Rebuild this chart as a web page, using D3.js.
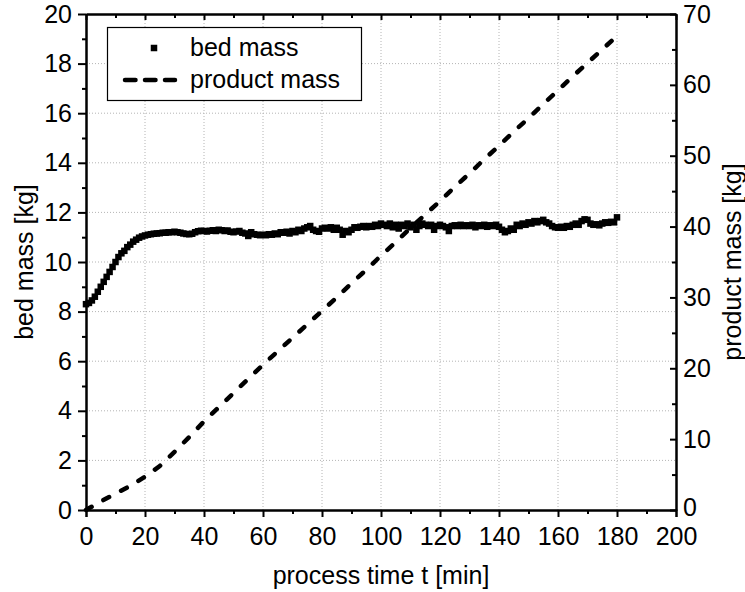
<!DOCTYPE html>
<html>
<head>
<meta charset="utf-8">
<script src="https://cdn.jsdelivr.net/npm/d3@7/dist/d3.min.js"></script>
<style>
    body { margin: 0; background: #fff; }
    text { font-family: "Liberation Sans", Arial, sans-serif; fill: #000; }
</style>
</head>
<body>
<svg id="chart"></svg>
<script>
// bed mass [kg], one reading per minute starting at t = 0 min
const bedMass = [
    8.30, 8.35, 8.45, 8.60, 8.80, 9.00, 9.20, 9.40, 9.60, 9.80,
    10.00, 10.20, 10.35, 10.45, 10.60, 10.70, 10.82, 10.90, 10.98, 11.03,
    11.07, 11.10, 11.12, 11.14, 11.15, 11.16, 11.18, 11.18, 11.20, 11.20,
    11.22, 11.20, 11.18, 11.15, 11.13, 11.12, 11.14, 11.20, 11.24, 11.26,
    11.25, 11.23, 11.26, 11.28, 11.25, 11.30, 11.28, 11.25, 11.27, 11.22,
    11.20, 11.23, 11.25, 11.18, 11.15, 11.05, 11.20, 11.12, 11.10, 11.08,
    11.10, 11.08, 11.12, 11.10, 11.15, 11.12, 11.20, 11.18, 11.22, 11.15,
    11.25, 11.20, 11.30, 11.25, 11.35, 11.40, 11.45, 11.30, 11.25, 11.22,
    11.35, 11.38, 11.35, 11.40, 11.30, 11.38, 11.30, 11.10, 11.25, 11.20,
    11.30, 11.40, 11.38, 11.42, 11.45, 11.40, 11.45, 11.42, 11.50, 11.45,
    11.55, 11.50, 11.45, 11.55, 11.40, 11.50, 11.35, 11.50, 11.45, 11.55,
    11.40, 11.50, 11.30, 11.45, 11.55, 11.50, 11.45, 11.50, 11.30, 11.45,
    11.50, 11.45, 11.40, 11.25, 11.45, 11.48, 11.45, 11.50, 11.45, 11.48,
    11.45, 11.50, 11.40, 11.48, 11.45, 11.50, 11.42, 11.48, 11.45, 11.50,
    11.42, 11.30, 11.20, 11.25, 11.35, 11.30, 11.50, 11.45, 11.55, 11.50,
    11.60, 11.55, 11.65, 11.60, 11.65, 11.70, 11.60, 11.55, 11.45, 11.40,
    11.38, 11.42, 11.38, 11.45, 11.42, 11.50, 11.55, 11.50, 11.65, 11.72,
    11.70, 11.55, 11.50, 11.52, 11.48, 11.55, 11.60, 11.58, 11.62, 11.60,
    11.80
];

// product mass [kg]
const productTime = [0, 5, 10, 15, 20, 25, 30, 35, 40, 45, 50, 55, 60, 65, 70, 75, 80, 85, 90,
    95, 100, 105, 110, 115, 120, 125, 130, 135, 140, 145, 150, 155, 160, 165, 170, 175, 180];
const productMass = [0, 1.2, 2.3, 3.4, 4.7, 6.2, 8.2, 10.3, 12.5, 14.5, 16.5, 18.5, 20.5, 22.4,
    24.3, 26.2, 28.1, 30.0, 32.0, 33.9, 35.9, 37.8, 39.8, 41.7, 43.6, 45.6, 47.5, 49.5, 51.4,
    53.4, 55.3, 57.3, 59.2, 61.2, 63.1, 65.0, 66.9];

const xTicks = [0, 20, 40, 60, 80, 100, 120, 140, 160, 180, 200];
const xMinorTicks = [10, 30, 50, 70, 90, 110, 130, 150, 170, 190];
const leftTicks = [0, 2, 4, 6, 8, 10, 12, 14, 16, 18, 20];
const leftMinorTicks = [1, 3, 5, 7, 9, 11, 13, 15, 17, 19];
const rightTicks = [0, 10, 20, 30, 40, 50, 60, 70];
const rightMinorTicks = [5, 15, 25, 35, 45, 55, 65];

const svgWidth = 745;
const svgHeight = 592;
const margin = { top: 14, right: 70, bottom: 82, left: 86 };

const xScale = d3.scaleLinear()
    .domain([0, 200])
    .range([margin.left, svgWidth - margin.right + 1]);

const yLeft = d3.scaleLinear()
    .domain([0, 20])
    .range([svgHeight - margin.bottom, margin.top]);

const yRight = d3.scaleLinear()
    .domain([0, 70])
    .range([svgHeight - margin.bottom, margin.top]);

function drawChart() {
    const svg = d3.select("#chart")
        .attr("width", svgWidth)
        .attr("height", svgHeight);

    const x0 = xScale.range()[0], x1 = xScale.range()[1];
    const y0 = yLeft.range()[0], y1 = yLeft.range()[1];

    // dotted grid
    const grid = svg.append("g")
        .attr("stroke", "#b4b4b4")
        .attr("stroke-width", 1)
        .attr("stroke-dasharray", "1,2");
    grid.selectAll(".vgrid")
        .data(xTicks.slice(1, -1))
        .join("line")
        .attr("x1", d => xScale(d)).attr("x2", d => xScale(d))
        .attr("y1", y0).attr("y2", y1);
    grid.selectAll(".hgrid")
        .data(leftTicks.slice(1, -1))
        .join("line")
        .attr("x1", x0).attr("x2", x1)
        .attr("y1", d => yLeft(d)).attr("y2", d => yLeft(d));

    // product mass, dashed line on right axis
    const line = d3.line()
        .x((d, i) => xScale(productTime[i]))
        .y(d => yRight(d));
    svg.append("path")
        .datum(productMass)
        .attr("fill", "none")
        .attr("stroke", "#000")
        .attr("stroke-width", 4.5)
        .attr("stroke-linecap", "round")
        .attr("stroke-dasharray", "6.5,13.5")
        .attr("d", line);

    // bed mass, square markers on left axis
    const s = 6.5;
    svg.append("g")
        .selectAll("rect")
        .data(bedMass)
        .join("rect")
        .attr("x", (d, i) => xScale(i) - s / 2)
        .attr("y", d => yLeft(d) - s / 2)
        .attr("width", s)
        .attr("height", s)
        .attr("fill", "#000");

    // axes
    const fontSize = 25;
    const styleAxis = g => {
        g.selectAll("path, line").attr("stroke", "#000").attr("stroke-width", 2);
        g.selectAll("text").attr("font-size", fontSize)
            .attr("font-family", '"Liberation Sans", Arial, sans-serif').attr("fill", "#000");
    };

    svg.append("g")
        .attr("transform", `translate(0,${y0})`)
        .call(d3.axisBottom(xScale).tickValues(xTicks).tickSize(7).tickPadding(10))
        .call(styleAxis);
    svg.append("g")
        .attr("transform", `translate(0,${y0})`)
        .call(d3.axisBottom(xScale).tickValues(xMinorTicks).tickSize(4).tickFormat("").tickSizeOuter(0))
        .call(styleAxis);

    svg.append("g")
        .attr("transform", `translate(0,${y1})`)
        .call(d3.axisTop(xScale).tickValues(xTicks).tickSize(-6).tickFormat("").tickSizeOuter(0))
        .call(styleAxis);
    svg.append("g")
        .attr("transform", `translate(0,${y1})`)
        .call(d3.axisTop(xScale).tickValues(xMinorTicks).tickSize(-4).tickFormat("").tickSizeOuter(0))
        .call(styleAxis);

    svg.append("g")
        .attr("transform", `translate(${x0},0)`)
        .call(d3.axisLeft(yLeft).tickValues(leftTicks).tickSize(8).tickPadding(6).tickSizeOuter(0))
        .call(styleAxis);
    svg.append("g")
        .attr("transform", `translate(${x0},0)`)
        .call(d3.axisLeft(yLeft).tickValues(leftMinorTicks).tickSize(4).tickFormat("").tickSizeOuter(0))
        .call(styleAxis);

    const rightAxis = svg.append("g")
        .attr("transform", `translate(${x1},0)`)
        .call(d3.axisRight(yRight).tickValues(rightTicks).tickSize(-6).tickPadding(7).tickSizeOuter(0))
        .call(styleAxis);
    // keep the right "0" clear of the bottom "200"
    rightAxis.selectAll(".tick text").filter(d => d === 0).attr("y", -3);
    svg.append("g")
        .attr("transform", `translate(${x1},0)`)
        .call(d3.axisRight(yRight).tickValues(rightMinorTicks).tickSize(-4).tickFormat("").tickSizeOuter(0))
        .call(styleAxis);

    // axis titles
    const midY = (y0 + y1) / 2;
    svg.append("text")
        .attr("transform", `translate(33,${midY}) rotate(-90)`)
        .attr("text-anchor", "middle")
        .attr("font-size", fontSize)
        .text("bed mass [kg]");
    svg.append("text")
        .attr("transform", `translate(741,${midY}) rotate(-90)`)
        .attr("text-anchor", "middle")
        .attr("font-size", fontSize)
        .text("product mass [kg]");
    svg.append("text")
        .attr("x", (x0 + x1) / 2)
        .attr("y", 584)
        .attr("text-anchor", "middle")
        .attr("font-size", fontSize)
        .text("process time t [min]");

    // legend
    const legend = svg.append("g");
    legend.append("rect")
        .attr("x", 107.5).attr("y", 27.5)
        .attr("width", 254).attr("height", 73)
        .attr("fill", "#fff")
        .attr("stroke", "#000")
        .attr("stroke-width", 1.2);
    legend.append("rect")
        .attr("x", 154 - s / 2).attr("y", 48 - s / 2)
        .attr("width", s).attr("height", s)
        .attr("fill", "#000");
    legend.append("line")
        .attr("x1", 125).attr("x2", 175)
        .attr("y1", 80).attr("y2", 80)
        .attr("stroke", "#000")
        .attr("stroke-width", 4.5)
        .attr("stroke-linecap", "round")
        .attr("stroke-dasharray", "10.5,9.5");
    legend.append("text")
        .attr("x", 190).attr("y", 56)
        .attr("font-size", fontSize)
        .text("bed mass");
    legend.append("text")
        .attr("x", 190).attr("y", 88)
        .attr("font-size", fontSize)
        .text("product mass");
}

document.addEventListener("DOMContentLoaded", drawChart);
</script>
</body>
</html>
